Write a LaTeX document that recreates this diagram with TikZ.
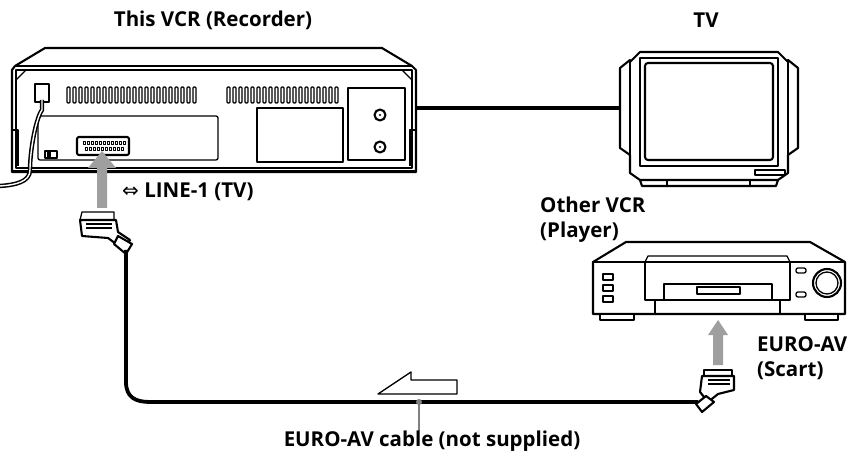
\documentclass[tikz,border=0pt]{standalone}
\usepackage{fontspec}
\setmainfont{Open Sans}
\begin{document}
\begin{tikzpicture}[x=1pt,y=-1pt,line join=round,
  lbl/.style={font=\bfseries\fontsize{20.5}{25}\selectfont,inner sep=0pt},
  dev/.style={line width=2.1pt},
  thin/.style={line width=1.3pt},
  cable/.style={line width=3.8pt},
  garrow/.style={fill=gray!75,draw=none}]
\useasboundingbox (0,0) rectangle (862,462);
% ---- Recorder VCR
\draw[dev,fill=white] (12,172) -- (12,70) -- (15,66) -- (45,48) -- (382,48) -- (412,66) -- (416,70) -- (416,172) -- cycle;
\draw[thin] (15,66) -- (412,66);
\draw[thin] (16,70) rectangle (412,168);
\draw[line width=3pt] (12,172) -- (416,172);
\draw[thin] (12,130) -- (18,130) -- (18,166); \draw[thin] (416,130) -- (410,130) -- (410,166);
\draw[thin] (26,70) -- (16,80); \draw[thin] (402,70) -- (412,80);
\node[draw,thin,minimum width=14,minimum height=18,inner sep=0] (pwr) at (42,93) {};
\foreach \i in {0,...,21} \draw[thin,rounded corners=1] (67+\i*6,87) rectangle (70+\i*6,103);
\foreach \i in {0,...,18} \draw[thin,rounded corners=1] (227+\i*6,87) rectangle (230+\i*6,103);
\draw[thin,rounded corners=2] (38,116) rectangle (218,160);
\draw[thin] (257,108) rectangle (343,162);
\draw[thin] (348,88) rectangle (405,160);
\foreach \yy in {115,147}{\draw[dev] (380,\yy) circle (5.5); \fill (380,\yy) circle (1.2);}
\node[draw,dev,fill=white,rounded corners=2,minimum width=52,minimum height=18,inner sep=0] (scA) at (103,146) {};
\foreach \i in {0,...,10} \draw[line width=0.6pt] (83+\i*4,141) rectangle (85+\i*4,144);
\foreach \i in {0,...,9} \draw[line width=0.6pt] (85+\i*4,147) rectangle (87+\i*4,150);
\draw[thin] (45,151) rectangle (57,158); \fill (47,152) rectangle (51,157);
% power cord
\draw[line width=4.4pt] (42,100) -- (42,110) .. controls (36,118) and (30,150) .. (30,170) .. controls (30,182) and (15,185) .. (0,186);
\draw[line width=1.4pt,white] (42,100) -- (42,110) .. controls (36,118) and (30,150) .. (30,170) .. controls (30,182) and (15,185) .. (0,186);
% ---- TV
\draw[dev,fill=white] (630,62) -- (640,52) -- (778,52) -- (788,62) -- (788,60) -- (798,68) -- (798,148) -- (788,155) -- (788,173) -- (778,180) -- (640,180) -- (630,173) -- (630,155) -- (620,148) -- (620,68) -- (630,60) -- cycle;
\draw[thin] (630,60) -- (630,155); \draw[thin] (788,60) -- (788,155);
\draw[thin] (640,58) rectangle (778,166);
\draw[dev,rounded corners=3] (645,63) rectangle (773,160);
\draw[dev] (640,180) -- (642,186) -- (776,186) -- (778,180);
\draw[thin] (667,180)--(667,186); \draw[thin] (750,180)--(750,186);
\draw[thin] (755,170) rectangle (785,175);
\coordinate (tvin) at (620,108);
\draw[cable] (416,108) -- (tvin);
% ---- Player VCR
\draw[dev,fill=white] (593,262) -- (626,242) -- (810,242) -- (845,262) -- (845,314) -- (593,314) -- cycle;
\draw[thin] (593,262) -- (845,262);
\draw[thin] (645,262) -- (648,256) -- (787,256) -- (790,262);
\draw[thin] (645,262) -- (645,300) -- (790,300) -- (790,262);
\draw[thin] (664,300) -- (664,284) -- (772,284) -- (772,300);
\draw[thin] (697,287) rectangle (740,294);
\draw[thin] (655,300) -- (655,314); \draw[thin] (780,300) -- (780,314);
\foreach \yy in {274,285,296} \draw[thin] (603,\yy) rectangle (613,\yy+6);
\draw[thin,rounded corners=2] (796,268) rectangle (806,273); \draw[thin,rounded corners=2] (796,292) rectangle (806,297);
\draw[dev] (827,283) circle (14); \draw[thin] (827,283) circle (11);
\draw[thin,fill=white] (600,314) rectangle (634,320); \draw[thin,fill=white] (805,314) rectangle (838,320);
% ---- gray arrows
\draw[garrow] (97,208) -- (97,168) -- (88,168) -- (102,151) -- (116,168) -- (107,168) -- (107,208) -- cycle;
\draw[garrow] (713,365) -- (713,335) -- (708,335) -- (718,320) -- (728,335) -- (723,335) -- (723,365) -- cycle;
% ---- plugs
\begin{scope}[shift={(100,228)}]
\draw[thin,fill=white] (-18,-16) -- (14,-16) -- (14,-8) -- (-20,-8) -- cycle;
\draw[dev,fill=white] (-20,-8) -- (16,-8) -- (18,4) -- (30,12) -- (24,22) -- (8,10) -- (-18,8) -- cycle;
\draw[thin] (-14,-4) -- (12,-4); \draw[thin] (-14,0) -- (12,0);
\draw[dev,fill=white] (18,8) -- (32,16) -- (26,26) -- (14,16) -- cycle;
\end{scope}
\coordinate (pA) at (126,250);
\begin{scope}[shift={(718,384)}]
\draw[thin,fill=white] (-14,-14) -- (14,-14) -- (14,-8) -- (-14,-8) -- cycle;
\draw[dev,fill=white] (-16,-8) -- (16,-8) -- (16,6) -- (0,10) -- (-10,18) -- (-18,8) -- cycle;
\draw[thin] (-10,-4) -- (12,-4); \draw[thin] (-10,0) -- (12,0);
\draw[dev,fill=white] (-12,12) -- (-22,20) -- (-16,28) -- (-4,18) -- cycle;
\end{scope}
\coordinate (pB) at (698,402);
\draw[cable] (pA) -- (126,382) .. controls (126,397) and (135,402) .. (150,402) -- (pB);
% hollow half arrow
\draw[thin,fill=white] (378,394) -- (411,372) -- (411,380) -- (457,380) -- (457,394) -- cycle;
\coordinate (tick) at (419,431);
\draw[line width=1.4pt,gray] (419,402) -- (tick);
\fill[gray] (419,402) circle (3);
% ---- labels
\node[lbl] (t1) at (213,20) {This VCR (Recorder)};
\node[lbl] (t2) at (706,20) {TV};
\node[lbl,anchor=west] (t3) at (122,192) {{\fontspec{DejaVu Sans}\mdseries\fontsize{20}{20}\selectfont ⇔}\ LINE-1 (TV)};
\node[lbl,anchor=west,align=left] (t4) at (540,220) {Other VCR\\(Player)};
\node[lbl,anchor=west,align=left] (t5) at (757,358) {EURO-AV\\(Scart)};
\node[lbl] (t6) at (432,441) {EURO-AV cable (not supplied)};
\end{tikzpicture}
\end{document}
